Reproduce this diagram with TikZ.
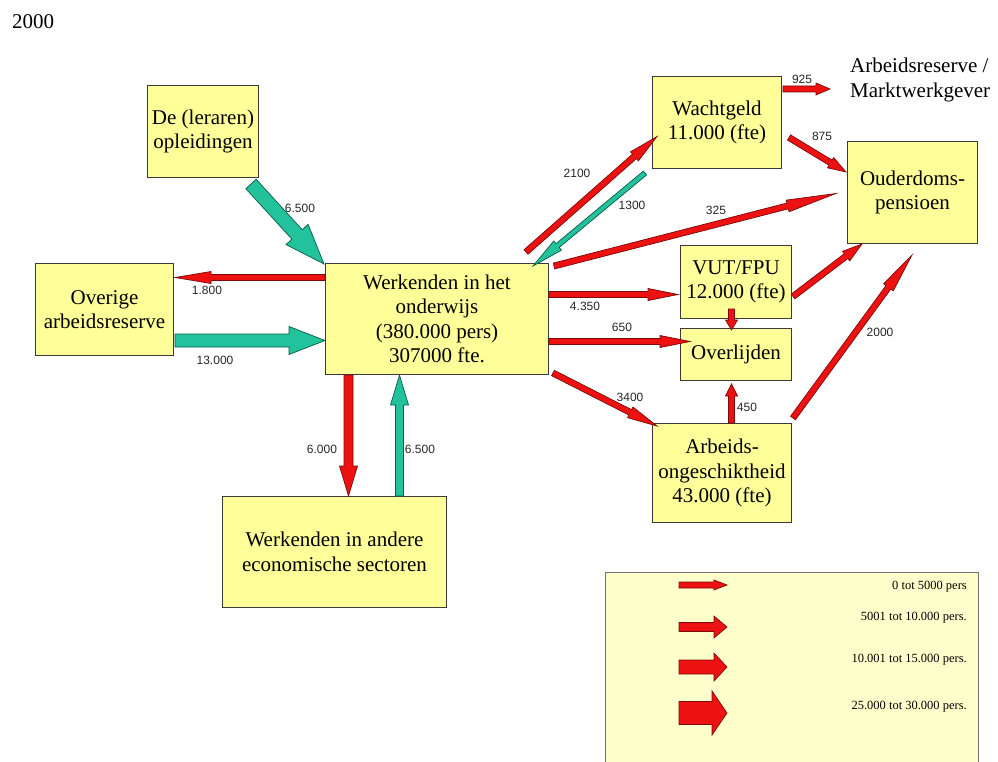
\documentclass[tikz,border=0pt]{standalone}
\usepackage{fontspec}
\setmainfont{Liberation Serif}
\newfontfamily\labelfont{Liberation Sans}
\usetikzlibrary{calc}
\definecolor{boxfill}{HTML}{FFFF99}
\definecolor{boxline}{HTML}{3A3A3A}
\definecolor{legfill}{HTML}{FFFFCC}
\definecolor{redf}{HTML}{EE1111}
\definecolor{redo}{HTML}{7A0A0A}
\definecolor{grnf}{HTML}{22C29C}
\definecolor{grno}{HTML}{0C5A48}
\newcommand\blockarrow[6]{%
  \coordinate (bH) at ($(#2)!#5!(#1)$);
  \filldraw[#6] ($(#1)!#3!90:(#2)$) -- ($(bH)!#3!90:(#2)$) -- ($(bH)!#4!90:(#2)$) -- (#2)
    -- ($(bH)!#4!-90:(#2)$) -- ($(bH)!#3!-90:(#2)$) -- ($(#1)!#3!-90:(#2)$) -- cycle;}
\tikzset{
  box/.style={draw=boxline, fill=boxfill, line width=1pt, inner sep=0pt, align=center,
    anchor=north west, font=\fontsize{21}{24.5}\selectfont},
  redarr/.style={fill=redf, draw=redo, line width=0.7pt, line join=miter},
  grnarr/.style={fill=grnf, draw=grno, line width=0.7pt, line join=miter},
  lbl/.style={font=\labelfont\fontsize{12}{14}\selectfont, text=black!85, inner sep=0pt},
  legtxt/.style={font=\fontsize{12.5}{14}\selectfont, anchor=east, inner sep=0pt},
}
\begin{document}
\begin{tikzpicture}[x=1pt, y=-1pt]
\useasboundingbox (0,0) rectangle (998,762);
% title
\node[anchor=west, font=\fontsize{21}{24}\selectfont, inner sep=0pt] (title) at (12,22) {2000};
% boxes
\node[box, minimum width=111pt, minimum height=92pt] (opl) at (147,85) {De (leraren)\\opleidingen};
\node[box, minimum width=138pt, minimum height=92pt] (over) at (35,263) {Overige\\arbeidsreserve};
\node[box, minimum width=223pt, minimum height=111pt] (werk) at (325,263) {Werkenden in het\\onderwijs\\(380.000 pers)\\307000 fte.};
\node[box, minimum width=224pt, minimum height=111pt] (andere) at (222,496) {Werkenden in andere\\economische sectoren};
\node[box, minimum width=129pt, minimum height=92pt] (wacht) at (652,76) {Wachtgeld\\11.000 (fte)};
\node[box, minimum width=130pt, minimum height=102pt] (oud) at (847,141) {Ouderdoms-\\pensioen};
\node[box, minimum width=111pt, minimum height=73pt] (vut) at (680,245) {VUT/FPU\\12.000 (fte)};
\node[box, minimum width=111pt, minimum height=52pt] (overl) at (680,328) {Overlijden};
\node[box, minimum width=139pt, minimum height=99pt] (arb) at (652,423) {Arbeids-\\ongeschiktheid\\43.000 (fte)};
\node[anchor=west, align=left, inner sep=0pt, font=\fontsize{21}{24.5}\selectfont] (res) at (850,80) {Arbeidsreserve /\\Marktwerkgever};
% legend box
\node[draw=black!55, fill=legfill, line width=1pt, anchor=north west, minimum width=373pt, minimum height=196pt, inner sep=0pt] (leg) at (605,572) {};
% connector end points
\coordinate (g1s) at ($(opl.south east)+(-8,6)$);
\coordinate (g1e) at ($(werk.north west)+(-1,1)$);
\coordinate (g2s) at ($(over.east)+(1,31)$);
\coordinate (g2e) at ($(werk.west)+(0,21.5)$);
\coordinate (g3s) at ($(andere.north)+(65,0)$);
\coordinate (g3e) at ($(werk.south)+(-37.5,0)$);
\coordinate (g4s) at ($(wacht.south west)+(-7,4)$);
\coordinate (g4e) at ($(werk.north east)+(-16,3)$);
\coordinate (r1s) at ($(werk.west)+(0,-41.5)$);
\coordinate (r1e) at ($(over.east)+(1,-32)$);
\coordinate (r2s) at ($(werk.south)+(-88.5,0)$);
\coordinate (r2e) at ($(andere.north)+(14,0)$);
\coordinate (r3s) at ($(werk.north east)+(-23,-11)$);
\coordinate (r3e) at ($(wacht.west)+(5,14)$);
\coordinate (r4s) at ($(werk.north east)+(5,3)$);
\coordinate (r4e) at ($(oud.west)+(-11,1)$);
\coordinate (r5s) at ($(wacht.north east)+(1,13)$);
\coordinate (r5e) at ($(res.west)+(-20,9)$);
\coordinate (r6s) at ($(wacht.east)+(7,15)$);
\coordinate (r6e) at ($(oud.north west)+(-1,31)$);
\coordinate (r7s) at ($(werk.east)+(0,-24.5)$);
\coordinate (r7e) at ($(vut.west)+(-2,12.5)$);
\coordinate (r8s) at ($(werk.east)+(0,22.5)$);
\coordinate (r8e) at ($(overl.west)+(10,-13)$);
\coordinate (r9s) at ($(werk.south east)+(4,-2)$);
\coordinate (r9e) at ($(arb.north west)+(5,3)$);
\coordinate (r10s) at ($(vut.south)+(-4.5,-10)$);
\coordinate (r10e) at ($(overl.north)+(-4.5,2)$);
\coordinate (r11s) at ($(arb.north)+(9.5,0)$);
\coordinate (r11e) at ($(overl.south)+(-4.5,3)$);
\coordinate (r12s) at ($(vut.east)+(1,14.5)$);
\coordinate (r12e) at ($(oud.south west)+(15,0)$);
\coordinate (r13s) at ($(arb.north east)+(1,-5)$);
\coordinate (r13e) at ($(oud.south west)+(65,11)$);
% green arrows
\blockarrow{g1s}{g1e}{7pt}{15pt}{40pt}{grnarr}
\blockarrow{g2s}{g2e}{6.5pt}{14pt}{36pt}{grnarr}
\blockarrow{g3s}{g3e}{4pt}{9pt}{30pt}{grnarr}
\blockarrow{g4s}{g4e}{2.5pt}{6pt}{32pt}{grnarr}
% red arrows
\blockarrow{r1s}{r1e}{3pt}{6pt}{36pt}{redarr}
\blockarrow{r2s}{r2e}{4.5pt}{9pt}{30pt}{redarr}
\blockarrow{r3s}{r3e}{3pt}{6pt}{30pt}{redarr}
\blockarrow{r4s}{r4e}{3pt}{6pt}{50pt}{redarr}
\blockarrow{r5s}{r5e}{3pt}{6pt}{14pt}{redarr}
\blockarrow{r6s}{r6e}{3pt}{6pt}{18pt}{redarr}
\blockarrow{r7s}{r7e}{3pt}{6pt}{30pt}{redarr}
\blockarrow{r8s}{r8e}{3pt}{6pt}{30pt}{redarr}
\blockarrow{r9s}{r9e}{3pt}{6pt}{30pt}{redarr}
\blockarrow{r10s}{r10e}{3pt}{6pt}{10pt}{redarr}
\blockarrow{r11s}{r11e}{3pt}{6pt}{12pt}{redarr}
\blockarrow{r12s}{r12e}{3pt}{6pt}{20pt}{redarr}
\blockarrow{r13s}{r13e}{3pt}{6pt}{40pt}{redarr}
% labels
\node[lbl] (l1) at (300,208) {6.500};
\node[lbl] (l2) at (207,290) {1.800};
\node[lbl] (l3) at (215,360) {13.000};
\node[lbl] (l4) at (322,449) {6.000};
\node[lbl] (l5) at (420,449) {6.500};
\node[lbl] (l6) at (577,173) {2100};
\node[lbl] (l7) at (632,205) {1300};
\node[lbl] (l8) at (716,210) {325};
\node[lbl] (l9) at (802,79) {925};
\node[lbl] (l10) at (822,136) {875};
\node[lbl] (l11) at (585,306) {4.350};
\node[lbl] (l12) at (622,327) {650};
\node[lbl] (l13) at (630,397) {3400};
\node[lbl] (l14) at (747,407) {450};
\node[lbl] (l15) at (880,332) {2000};
% legend arrows
\coordinate (la1) at ($(leg.north west)+(74,13)$);
\coordinate (lb1) at ($(leg.north west)+(122,13)$);
\coordinate (la2) at ($(leg.north west)+(74,55)$);
\coordinate (lb2) at ($(leg.north west)+(122,55)$);
\coordinate (la3) at ($(leg.north west)+(74,95)$);
\coordinate (lb3) at ($(leg.north west)+(122,95)$);
\coordinate (la4) at ($(leg.north west)+(74,141)$);
\coordinate (lb4) at ($(leg.north west)+(122,141)$);
\blockarrow{la1}{lb1}{3pt}{5pt}{13pt}{redarr}
\blockarrow{la2}{lb2}{4.5pt}{11pt}{13pt}{redarr}
\blockarrow{la3}{lb3}{7pt}{14pt}{13pt}{redarr}
\blockarrow{la4}{lb4}{11.5pt}{22pt}{15pt}{redarr}
\node[legtxt] (t1) at ($(leg.north west)+(362,15)$) {0 tot 5000 pers};
\node[legtxt] (t2) at ($(leg.north west)+(362,46)$) {5001 tot 10.000 pers.};
\node[legtxt] (t3) at ($(leg.north west)+(362,88)$) {10.001 tot 15.000 pers.};
\node[legtxt] (t4) at ($(leg.north west)+(362,135)$) {25.000 tot 30.000 pers.};
\end{tikzpicture}
\end{document}
